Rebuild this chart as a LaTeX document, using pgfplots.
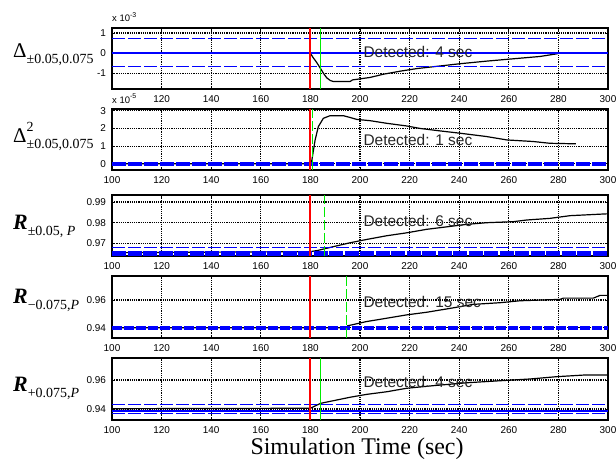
\documentclass[border=0pt]{standalone}
\usepackage{pgfplots}
\pgfplotsset{compat=1.18}
\usepackage{fontspec}
\setmainfont{Liberation Sans}
\newfontfamily\serifont{Liberation Serif}
\definecolor{mblue}{RGB}{0,0,255}
\definecolor{mred}{RGB}{255,0,0}
\definecolor{mgreen}{RGB}{0,235,0}
\pgfplotsset{
  panel/.style={
    scale only axis, width=496bp, anchor=south west,
    xmin=100, xmax=300, xtick={100,120,...,300},
    xticklabels={100,120,140,160,180,200,220,240,260,280,300},
    grid=major,
    major grid style={black, line width=1.2bp, dash pattern=on 1.2bp off 1bp},
    axis line style={black, line width=1.5bp},
    tick align=inside, major tick length=3bp, tick pos=both,
    tick style={black, line width=0.8bp},
    ticklabel style={font=\fontsize{10}{12}\selectfont},
    xticklabel style={yshift=-3.5bp},
    yticklabel style={xshift=-2.5bp},
    clip=false,
  },
  curve/.style={black, line width=1.2bp},
  thr/.style={mblue, line width=1bp, dash pattern=on 13bp off 3bp},
  thrsolid/.style={mblue, line width=1.5bp},
  redl/.style={mred, line width=2bp},
  greens/.style={mgreen, line width=1.5bp},
  greend/.style={mgreen, line width=1.1bp, dash pattern=on 10bp off 3bp},
}
\newcommand{\ann}{\fontsize{15.5}{18}\selectfont\color{black!85}}
\begin{document}
\begin{tikzpicture}[x=1bp,y=1bp]
\useasboundingbox (0,0) rectangle (616,459);
% Panel 1
\begin{axis}[panel, at={(112bp,370bp)}, height=61bp, ymin=-1.77, ymax=1.25,
  ytick={-1,0,1}, yticklabels={-1,0,1},
  xticklabels={,120,140,160,180,200,220,240,260,280,300}]
\addplot[curve] coordinates {(100,0) (180,0) (181,-0.2) (182.5,-0.45) (184.1,-0.76) (185.3,-1.0) (186.6,-1.22) (188,-1.35) (189.2,-1.40) (196,-1.40) (197,-1.32) (200,-1.27) (204,-1.20) (209.4,-1.04) (216.1,-0.89) (222.9,-0.76) (232.3,-0.63) (240.3,-0.52) (251.1,-0.39) (263.2,-0.26) (272.6,-0.16) (279.3,-0.03) (280,0) (300,0)};
\addplot[thr] coordinates {(100,0.75) (300,0.75)};
\addplot[thr] coordinates {(100,-0.65) (300,-0.65)};
\addplot[thrsolid] coordinates {(100,0) (300,0)};
\addplot[redl] coordinates {(180,-1.77) (180,1.25)};
\addplot[greens] coordinates {(184,-1.77) (184,1.25)};
\node[anchor=base west, font=\ann] at (axis cs:200,-0.2) {Detected: 4 sec};
\end{axis}
% Panel 2
\begin{axis}[panel, at={(112bp,289bp)}, height=61bp, ymin=-0.35, ymax=3.1,
  ytick={0,1,2,3}, yticklabels={0,1,2,3}]
\addplot[curve] coordinates {(100,0) (180,0) (180.5,0.13) (181.9,1.35) (183.2,2.1) (185.2,2.57) (187.9,2.72) (193.3,2.72) (196,2.62) (198.7,2.51) (204,2.44) (210.8,2.29) (218.8,2.14) (224.2,2.0) (232.3,1.86) (240.3,1.73) (251.1,1.54) (259.2,1.35) (269.9,1.26) (276.6,1.16) (287,1.13)};
\addplot[mblue, line width=4bp, dash pattern=on 14bp off 2bp] coordinates {(100,0) (300,0)};
\addplot[redl] coordinates {(180,-0.35) (180,3.1)};
\addplot[greend] coordinates {(181,-0.35) (181,3.1)};
\node[anchor=base west, font=\ann] at (axis cs:200,1.01) {Detected: 1 sec};
\end{axis}
% Panel 3
\begin{axis}[panel, at={(112bp,203bp)}, height=61bp, ymin=0.9639, ymax=0.9934,
  ytick={0.97,0.98,0.99}, yticklabels={0.97,0.98,0.99}]
\addplot[curve] coordinates {(100,0.9655) (180,0.9660) (183,0.9666) (189.2,0.9684) (196,0.9703) (202.7,0.9719) (210.8,0.9737) (218.8,0.9751) (226.9,0.9768) (235,0.9780) (243,0.9792) (251.1,0.9800) (261.8,0.9805) (267.2,0.9813) (276.6,0.9821) (284.7,0.9834) (298.1,0.9842) (300,0.9843)};
\addplot[thr] coordinates {(100,0.9679) (300,0.9679)};
\addplot[mblue, line width=5bp, dash pattern=on 14bp off 1.5bp] coordinates {(100,0.9653) (300,0.9653)};
\addplot[redl] coordinates {(180,0.9639) (180,0.9934)};
\addplot[greend] coordinates {(185.6,0.9639) (185.6,0.9934)};
\node[anchor=base west, font=\ann] at (axis cs:200,0.9784) {Detected: 6 sec};
\end{axis}
% Panel 4
\begin{axis}[panel, at={(112bp,121bp)}, height=62bp, ymin=0.9326, ymax=0.9774,
  ytick={0.94,0.96}, yticklabels={0.94,0.96}]
\addplot[curve] coordinates {(100,0.94) (194.5,0.94) (195,0.9414) (202.7,0.9445) (210.8,0.9469) (218.8,0.9493) (226.9,0.9512) (235,0.9536) (245.7,0.9569) (256.5,0.9581) (264.5,0.9595) (272.6,0.96) (280.6,0.9605) (282,0.9614) (294.1,0.9614) (296.8,0.9634) (300,0.9634)};
\addplot[mblue, line width=4bp, dash pattern=on 10bp off 2bp] coordinates {(100,0.94) (300,0.94)};
\addplot[redl] coordinates {(180,0.9326) (180,0.9774)};
\addplot[greend] coordinates {(194.5,0.9326) (194.5,0.9774)};
\node[anchor=base west, font=\ann] at (axis cs:200,0.9545) {Detected: 15 sec};
\end{axis}
% Panel 5
\begin{axis}[panel, at={(112bp,39bp)}, height=62bp, ymin=0.9324, ymax=0.9752,
  ytick={0.94,0.96}, yticklabels={0.94,0.96}]
\addplot[curve] coordinates {(100,0.9402) (180,0.9405) (184.1,0.9439) (189.2,0.9457) (196,0.9481) (202.7,0.9501) (210.8,0.9519) (218.8,0.9543) (229.6,0.9561) (243,0.9581) (256.5,0.9595) (268.5,0.9607) (279.3,0.9623) (290,0.9634) (300,0.9634)};
\addplot[thr] coordinates {(100,0.9432) (300,0.9432)};
\addplot[thr] coordinates {(100,0.9370) (300,0.9370)};
\addplot[thrsolid] coordinates {(100,0.9386) (300,0.9386)};
\addplot[redl] coordinates {(180,0.9324) (180,0.9752)};
\addplot[greens] coordinates {(184,0.9324) (184,0.9752)};
\node[anchor=base west, font=\ann] at (axis cs:200,0.955) {Detected: 4 sec};
\end{axis}
% exponent labels
\node[anchor=base west, inner sep=0pt, font=\fontsize{9.5}{11}\selectfont] at (112,437) {x 10\raisebox{4.5bp}{\fontsize{7}{8}\selectfont -3}};
\node[anchor=base west, inner sep=0pt, font=\fontsize{9.5}{11}\selectfont] at (112,355.7) {x 10\raisebox{4.5bp}{\fontsize{7}{8}\selectfont -5}};
% y labels
\newcommand{\sub}[1]{\raisebox{-6bp}{\fontsize{14}{14}\selectfont #1}}
\node[anchor=base west, inner sep=0pt, font=\serifont\fontsize{21}{21}\selectfont] at (13,401.7) {Δ\sub{±0.05,0.075}};
\node[anchor=base west, inner sep=0pt, font=\serifont\fontsize{21}{21}\selectfont] at (13,316.7) {Δ\rlap{\raisebox{11bp}{\fontsize{14}{14}\selectfont 2}}\sub{±0.05,0.075}};
\node[anchor=base west, inner sep=0pt, font=\serifont\fontsize{22}{22}\selectfont] at (13,229.7) {\textbf{\textit{R}}\sub{±0.05, \textit{P}}};
\node[anchor=base west, inner sep=0pt, font=\serifont\fontsize{22}{22}\selectfont] at (13,155.7) {\textbf{\textit{R}}\sub{−0.075,\textit{P}}};
\node[anchor=base west, inner sep=0pt, font=\serifont\fontsize{22}{22}\selectfont] at (13,67.3) {\textbf{\textit{R}}\sub{+0.075,\textit{P}}};
% x label
\node[anchor=base, inner sep=0pt, font=\serifont\fontsize{24}{24}\selectfont] at (357,4.5) {Simulation Time (sec)};
\end{tikzpicture}
\end{document}
